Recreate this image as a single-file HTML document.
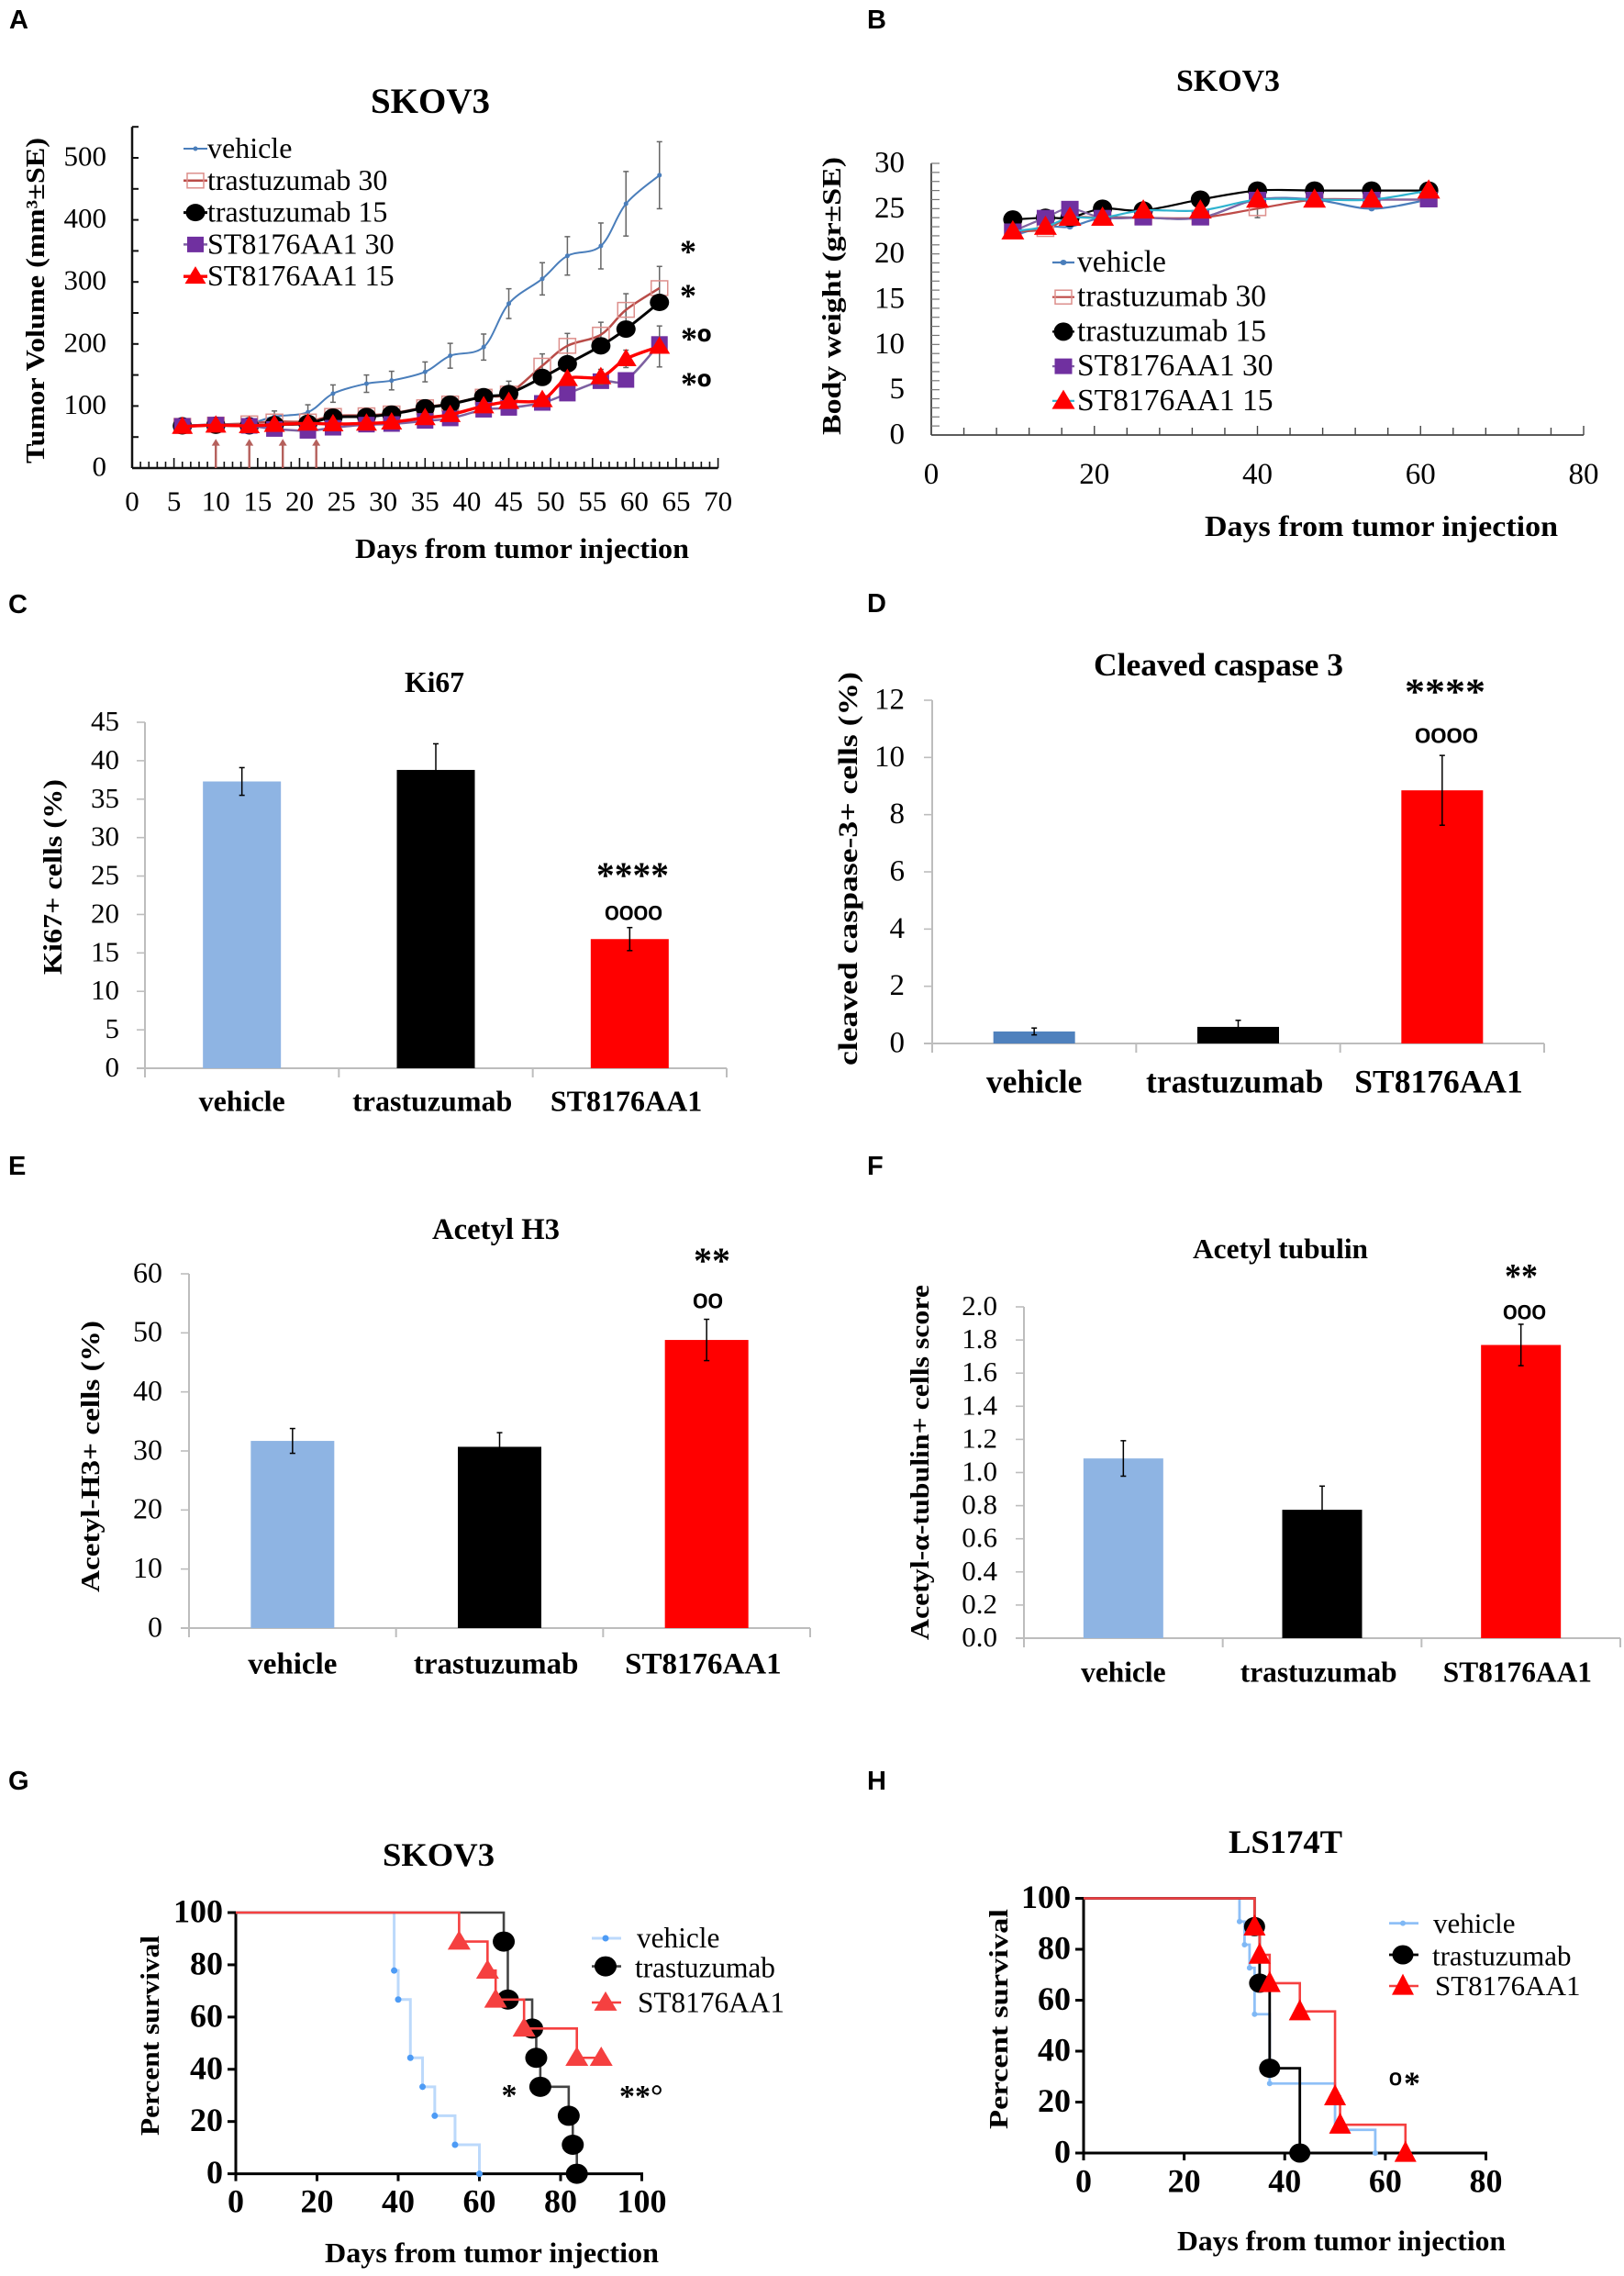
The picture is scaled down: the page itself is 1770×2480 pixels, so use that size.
<!DOCTYPE html>
<html lang="en">
<head>
<meta charset="utf-8">
<title>Tumor growth, biomarker and survival figure</title>
<style>
html,body{margin:0;padding:0;background:#fff;}
svg{display:block;}
text{font-family:"Liberation Serif",serif;fill:#000;}
.letter{font-family:"Liberation Sans",sans-serif;font-weight:700;font-size:29px;}
.title,.axis-title,.sig{font-weight:700;}
.ring{font-family:"Liberation Sans",sans-serif;stroke:#000;stroke-width:0.7px;}
</style>
</head>
<body>
<svg id="figure" xmlns="http://www.w3.org/2000/svg" width="1770" height="2480" viewBox="0 0 1770 2480">
<rect width="1770" height="2480" fill="#fff"/>

<g id="panel-a">
<text class="letter" x="10" y="31">A</text>
<text class="title" x="404" y="123" font-size="39" textLength="130" lengthAdjust="spacingAndGlyphs">SKOV3</text>
<text class="axis-title" x="387" y="608" font-size="31" textLength="364" lengthAdjust="spacingAndGlyphs">Days from tumor injection</text>
<text class="axis-title" x="48" y="505" font-size="29" textLength="355" lengthAdjust="spacingAndGlyphs" transform="rotate(-90 48 505)">Tumor Volume (mm³±SE)</text>
<text class="sig" x="750" y="286" font-size="36" text-anchor="middle">*</text>
<text class="sig" x="750" y="334" font-size="36" text-anchor="middle">*</text>
<text class="sig" x="742" y="381" font-size="36">*<tspan class="ring" font-size="25" dy="-9">o</tspan></text>
<text class="sig" x="742" y="430" font-size="36">*<tspan class="ring" font-size="25" dy="-9">o</tspan></text>
</g>

<g id="panel-b">
<text class="letter" x="945" y="31">B</text>
<text class="title" x="1282" y="99" font-size="34" textLength="113" lengthAdjust="spacingAndGlyphs">SKOV3</text>
<text class="axis-title" x="1313" y="584" font-size="32" textLength="385" lengthAdjust="spacingAndGlyphs">Days from tumor injection</text>
<text class="axis-title" x="916" y="474" font-size="29" textLength="303" lengthAdjust="spacingAndGlyphs" transform="rotate(-90 916 474)">Body weight (gr±SE)</text>
</g>

<g id="panel-c">
<text class="letter" x="9" y="668">C</text>
<text class="title" x="441" y="754" font-size="32" textLength="65" lengthAdjust="spacingAndGlyphs">Ki67</text>
<text class="axis-title" x="67" y="1062" font-size="28" textLength="213" lengthAdjust="spacingAndGlyphs" transform="rotate(-90 67 1062)">Ki67+ cells (%)</text>
<text class="sig" x="650" y="967" font-size="40" textLength="79" lengthAdjust="spacingAndGlyphs">****</text>
<text class="ring" x="659" y="1002" font-size="28" textLength="63" lengthAdjust="spacingAndGlyphs">oooo</text>
</g>

<g id="panel-d">
<text class="letter" x="945" y="667">D</text>
<text class="title" x="1192" y="736" font-size="35" textLength="272" lengthAdjust="spacingAndGlyphs">Cleaved caspase 3</text>
<text class="axis-title" x="934" y="1161" font-size="30" textLength="429" lengthAdjust="spacingAndGlyphs" transform="rotate(-90 934 1161)">cleaved caspase-3+ cells (%)</text>
<text class="sig" x="1531" y="767" font-size="40" textLength="88" lengthAdjust="spacingAndGlyphs">****</text>
<text class="ring" x="1542" y="809" font-size="29" textLength="69" lengthAdjust="spacingAndGlyphs">oooo</text>
</g>

<g id="panel-e">
<text class="letter" x="9" y="1280">E</text>
<text class="title" x="471" y="1350" font-size="33" textLength="139" lengthAdjust="spacingAndGlyphs">Acetyl H3</text>
<text class="axis-title" x="108" y="1735" font-size="28" textLength="296" lengthAdjust="spacingAndGlyphs" transform="rotate(-90 108 1735)">Acetyl-H3+ cells (%)</text>
<text class="sig" x="756" y="1387" font-size="40" textLength="40" lengthAdjust="spacingAndGlyphs">**</text>
<text class="ring" x="755" y="1425" font-size="29" textLength="33" lengthAdjust="spacingAndGlyphs">oo</text>
</g>

<g id="panel-f">
<text class="letter" x="945" y="1280">F</text>
<text class="title" x="1300" y="1371" font-size="31" textLength="191" lengthAdjust="spacingAndGlyphs">Acetyl tubulin</text>
<text class="axis-title" x="1012" y="1787" font-size="28" textLength="387" lengthAdjust="spacingAndGlyphs" transform="rotate(-90 1012 1787)">Acetyl-α-tubulin+ cells score</text>
<text class="sig" x="1640" y="1403" font-size="38" textLength="36" lengthAdjust="spacingAndGlyphs">**</text>
<text class="ring" x="1638" y="1437" font-size="28" textLength="47" lengthAdjust="spacingAndGlyphs">ooo</text>
</g>

<g id="panel-g">
<text class="letter" x="9" y="1950">G</text>
<text class="title" x="417" y="2033" font-size="36" textLength="122" lengthAdjust="spacingAndGlyphs">SKOV3</text>
<text class="axis-title" x="354" y="2465" font-size="31" textLength="364" lengthAdjust="spacingAndGlyphs">Days from tumor injection</text>
<text class="axis-title" x="173" y="2327" font-size="28" textLength="218" lengthAdjust="spacingAndGlyphs" transform="rotate(-90 173 2327)">Percent survival</text>
<text class="sig" x="555" y="2294" font-size="34" text-anchor="middle">*</text>
<text class="sig" x="675" y="2295" font-size="34">**°</text>
</g>

<g id="panel-h">
<text class="letter" x="945" y="1950">H</text>
<text class="title" x="1339" y="2019" font-size="36" textLength="124" lengthAdjust="spacingAndGlyphs">LS174T</text>
<text class="axis-title" x="1283" y="2452" font-size="31" textLength="358" lengthAdjust="spacingAndGlyphs">Days from tumor injection</text>
<text class="axis-title" x="1098" y="2320" font-size="28" textLength="240" lengthAdjust="spacingAndGlyphs" transform="rotate(-90 1098 2320)">Percent survival</text>
<text class="ring" x="1514" y="2272" font-size="25">o</text>
<text class="sig" x="1530" y="2282" font-size="36">*</text>
</g>
</svg>

<script>
/* ---------- Panel A data: tumor volume ---------- */
const aDays = [6,10,14,17,21,24,28,31,35,38,42,45,49,52,56,59,63];
const aVehicle = [68,70,72,83,90,120,136,141,155,181,195,265,305,342,358,426,472];
const aVehicleErr = [4,4,5,9,12,14,14,15,16,20,21,24,26,31,37,52,54];
const aTras30 = [68,70,72,75,75,84,85,88,98,104,115,120,165,197,215,255,290];
const aTras30Err = [4,4,4,5,5,6,6,6,7,8,8,20,19,20,20,26,35];
const aTras15 = [68,69,68,70,72,82,83,87,97,103,115,120,146,168,197,224,267];
const aST30 = [68,70,68,63,60,65,70,71,76,80,94,97,105,120,140,142,200];
const aST15 = [67,69,68,70,72,71,72,74,81,86,100,107,110,144,147,176,196];
const aST15Err = [3,3,3,4,4,4,4,4,5,5,6,6,8,10,12,14,33];
const aArrowDays = [10,14,18,22];
const aXTicks = ['0','5','10','15','20','25','30','35','40','45','50','55','60','65','70'];
const aYTicks = ['0','100','200','300','400','500'];

/* ---------- Panel B data: body weight ---------- */
const bDays = [10,14,17,21,26,33,40,47,54,61];
const bVehicle = [22,23,23,24,24,24,26,26,25,26];
const bTras30 = [22.5,22.7,24,24,24,24,25,26,26,26];
const bTras30Err = [0.5,0.4,0.5,0.5,0.4,0.5,1,0.5,0.5,0.5];
const bTras15 = [23.8,24,24,25,24.8,26,27,27,27,27];
const bST30 = [22.5,24,25,24,24,24,26,26,26,26];
const bST15 = [22.5,23,24,24,24.8,24.8,26,26,26,27];
const bXTicks = ['0','20','40','60','80'];
const bYTicks = ['0','5','10','15','20','25','30'];

/* ---------- Legends ---------- */
const doseSeriesNames = ['vehicle','trastuzumab 30','trastuzumab 15','ST8176AA1 30','ST8176AA1 15'];
const treatmentNames = ['vehicle','trastuzumab','ST8176AA1'];

/* ---------- Panels C-F data: bars ---------- */
const barCategories = ['vehicle','trastuzumab','ST8176AA1'];
const cValues = [37.3,38.8,16.8];
const cErrors = [1.8,3.4,1.5];
const cYTicks = ['0','5','10','15','20','25','30','35','40','45'];
const dValues = [0.42,0.58,8.85];
const dErrors = [0.12,0.23,1.22];
const dYTicks = ['0','2','4','6','8','10','12'];
const eValues = [31.7,30.7,48.8];
const eErrors = [2.1,2.4,3.5];
const eYTicks = ['0','10','20','30','40','50','60'];
const fValues = [1.085,0.775,1.77];
const fErrors = [0.107,0.143,0.125];
const fYTicks = ['0.0','0.2','0.4','0.6','0.8','1.0','1.2','1.4','1.6','1.8','2.0'];

/* ---------- Panels G-H data: survival ---------- */
const gVehicleDays = [39,40,43,46,49,54,60];
const gVehicleSurv = [77.8,66.7,44.4,33.3,22.2,11.1,0];
const gTrasDays = [66,67,73,74,75,82,83,84];
const gTrasSurv = [88.9,66.7,55.6,44.4,33.3,22.2,11.1,0];
const gSTDays = [55,62,64,71,84,90];
const gSTSurv = [88.9,77.8,66.7,55.6,44.4,44.4];
const gXTicks = ['0','20','40','60','80','100'];
const survivalYTicks = ['0','20','40','60','80','100'];
const hVehicleDays = [31,32,33,34,37,50,58];
const hVehicleSurv = [90.9,81.8,72.7,54.5,27.3,9.1,0];
const hTrasDays = [34,35,37,43];
const hTrasSurv = [88.9,66.7,33.3,0];
const hSTDays = [34,35,37,43,50,51,64];
const hSTSurv = [88.9,77.8,66.7,55.6,22.2,11.1,0];
const hXTicks = ['0','20','40','60','80'];

/* ---------- Helpers ---------- */
const NS = 'http://www.w3.org/2000/svg';
const linear = (d0, d1, r0, r1) => v => r0 + (v - d0) / (d1 - d0) * (r1 - r0);
const panel = id => document.getElementById(id);

function shape(parent, tag, name, props) {
  const el = document.createElementNS(NS, tag);
  for (const k in props) el.setAttribute(k, props[k]);
  
  
  parent.appendChild(el);
  return el;
}
function seg(parent, name, x1, y1, x2, y2, stroke, w) {
  return shape(parent, 'line', name, {x1, y1, x2, y2, stroke, 'stroke-width': w});
}
function label(parent, name, str, x, y, size, anchor, weight) {
  const el = shape(parent, 'text', name, {x, y, 'font-size': size, 'text-anchor': anchor, 'font-weight': weight || 400});
  el.textContent = str;
  return el;
}
function marker(parent, name, kind, x, y, st) {
  const w = st.w, h = st.h;
  if (kind === 'circle' || kind === 'dot')
    return shape(parent, 'ellipse', name, {cx: x, cy: y, rx: w / 2, ry: h / 2, fill: st.fill});
  if (kind === 'square')
    return shape(parent, 'rect', name, {x: x - w / 2, y: y - h / 2, width: w, height: h, fill: st.fill, stroke: st.stroke || 'none', 'stroke-width': st.sw || 0});
  return shape(parent, 'polygon', name, {points: `${x},${y - h * 0.58} ${x + w / 2},${y + h * 0.42} ${x - w / 2},${y + h * 0.42}`, fill: st.fill});
}
function smoothPath(pts) {
  let d = `M${pts[0][0]},${pts[0][1]}`;
  for (let i = 0; i < pts.length - 1; i++) {
    const p0 = pts[Math.max(i - 1, 0)], p1 = pts[i], p2 = pts[i + 1], p3 = pts[Math.min(i + 2, pts.length - 1)];
    d += ` C${p1[0] + (p2[0] - p0[0]) / 6},${p1[1] + (p2[1] - p0[1]) / 6} ${p2[0] - (p3[0] - p1[0]) / 6},${p2[1] - (p3[1] - p1[1]) / 6} ${p2[0]},${p2[1]}`;
  }
  return d;
}
function errorBar(parent, name, x, yHi, yLo, color, w, cap) {
  seg(parent, name, x, yHi, x, yLo, color, w);
  seg(parent, name + '-cap', x - cap, yHi, x + cap, yHi, color, w);
  seg(parent, name + '-cap', x - cap, yLo, x + cap, yLo, color, w);
}
function smoothSeries(parent, name, days, values, errs, X, Y, st) {
  const g = shape(parent, 'g', name, {});
  if (errs) days.forEach((d, i) => errorBar(g, name + '-error', X(d), Y(values[i] + errs[i]), Y(values[i] - errs[i]), '#666', 1.5, 3));
  shape(g, 'path', name + '-line', {d: smoothPath(days.map((d, i) => [X(d), Y(values[i])])), fill: 'none', stroke: st.line, 'stroke-width': st.lw});
  days.forEach((d, i) => marker(g, name + '-point', st.kind, X(d), Y(values[i]), st));
}
function legendRow(parent, name, str, textX, baseY, fontSize, x1, x2, mx, my, st) {
  seg(parent, name + '-swatch-line', x1, my, x2, my, st.line, st.lw);
  marker(parent, name + '-swatch-marker', st.kind, mx, my, st);
  label(parent, name + '-label', str, textX, baseY, fontSize, 'start');
}
function stepSeries(parent, name, days, surv, X, Y, st) {
  const g = shape(parent, 'g', name, {});
  let d = `M${X(0)},${Y(100)}`;
  days.forEach((t, i) => { d += ` H${X(t)} V${Y(surv[i])}`; });
  shape(g, 'path', name + '-line', {d, fill: 'none', stroke: st.line, 'stroke-width': st.lw});
  days.forEach((t, i) => marker(g, name + '-point', st.kind, X(t), Y(surv[i]), st));
}

/* ---------- Panel A ---------- */
(function () {
  const g = panel('panel-a');
  const X = linear(0, 70, 144, 782.6), Y = linear(0, 500, 510, 172);
  const dark = '#111';
  seg(g, 'y-axis-line', X(0), Y(550), X(0), Y(0), dark, 2.5);
  seg(g, 'x-axis-line', X(0), Y(0), X(70), Y(0), dark, 2.5);
  for (let d = 0; d <= 70; d++) seg(g, 'x-tick', X(d), Y(0), X(d), Y(0) - (d % 5 ? 7 : 11), dark, 1.6);
  for (let v = 50; v <= 550; v += 50) seg(g, 'y-tick', X(0), Y(v), X(0) + 7, Y(v), dark, 2);
  aXTicks.forEach(t => label(g, 'x-tick-label', t, X(+t), 556.5, 31, 'middle'));
  aYTicks.forEach(t => label(g, 'y-tick-label', t, 116, Y(+t) + 8.5, 31, 'end'));
  aArrowDays.forEach(d => {
    seg(g, 'dosing-arrow-shaft', X(d), Y(0), X(d), Y(38), '#b5605c', 2.4);
    shape(g, 'polygon', 'dosing-arrow-head', {points: `${X(d)},${Y(47)} ${X(d) + 4.5},${Y(36)} ${X(d) - 4.5},${Y(36)}`, fill: '#b5605c'});
  });
  const styles = [
    {kind: 'dot', w: 5, h: 5, fill: '#4a7ebb', line: '#4a7ebb', lw: 2},
    {kind: 'square', w: 18, h: 16, fill: 'none', stroke: '#dd8f8c', sw: 1.5, line: '#b94c48', lw: 2.5},
    {kind: 'circle', w: 21, h: 19, fill: '#000', line: '#000', lw: 3},
    {kind: 'square', w: 18, h: 17, fill: '#7030a0', line: '#7d60a0', lw: 2.5},
    {kind: 'triangle', w: 23, h: 19, fill: '#ff0000', line: '#ff0000', lw: 3.4}
  ];
  smoothSeries(g, 'series-vehicle', aDays, aVehicle, aVehicleErr, X, Y, styles[0]);
  smoothSeries(g, 'series-trastuzumab-30', aDays, aTras30, aTras30Err, X, Y, styles[1]);
  smoothSeries(g, 'series-trastuzumab-15', aDays, aTras15, null, X, Y, styles[2]);
  smoothSeries(g, 'series-st8176aa1-30', aDays, aST30, null, X, Y, styles[3]);
  smoothSeries(g, 'series-st8176aa1-15', aDays, aST15, aST15Err, X, Y, styles[4]);
  doseSeriesNames.forEach((n, i) => {
    const my = 162 + i * 34.8;
    legendRow(g, 'legend-entry', n, 226, my + 10, 32, 200, 226, 213, my, styles[i]);
  });
})();

/* ---------- Panel B ---------- */
(function () {
  const g = panel('panel-b');
  const X = linear(0, 80, 1015, 1726), Y = linear(0, 30, 474, 178);
  const dark = '#444';
  seg(g, 'y-axis-line', X(0), Y(30), X(0), Y(0), dark, 1.8);
  seg(g, 'x-axis-line', X(0), Y(0), X(80), Y(0), dark, 1.8);
  for (let d = 4; d <= 80; d += 4) seg(g, 'x-tick', X(d), Y(0), X(d), Y(0) - (d % 20 ? 8 : 10), dark, 1.4);
  for (let v = 1; v <= 30; v++) seg(g, 'y-tick', X(0), Y(v), X(0) + 9, Y(v), '#777', 1.2);
  bXTicks.forEach(t => label(g, 'x-tick-label', t, X(+t), 527, 33, 'middle'));
  bYTicks.forEach(t => label(g, 'y-tick-label', t, 986, Y(+t) + 9.5, 33, 'end'));
  const styles = [
    {kind: 'dot', w: 7, h: 6, fill: '#4a7ebb', line: '#4a7ebb', lw: 2.2},
    {kind: 'square', w: 18, h: 15, fill: 'none', stroke: '#dd8f8c', sw: 1.5, line: '#be4b48', lw: 2.2},
    {kind: 'circle', w: 21, h: 20, fill: '#000', line: '#000', lw: 2.2},
    {kind: 'square', w: 19, h: 17, fill: '#7030a0', line: '#8064a2', lw: 2.2},
    {kind: 'triangle', w: 25, h: 21, fill: '#ff0000', line: '#2fb3cf', lw: 2.2}
  ];
  smoothSeries(g, 'series-vehicle', bDays, bVehicle, null, X, Y, styles[0]);
  smoothSeries(g, 'series-trastuzumab-30', bDays, bTras30, bTras30Err, X, Y, styles[1]);
  smoothSeries(g, 'series-trastuzumab-15', bDays, bTras15, null, X, Y, styles[2]);
  smoothSeries(g, 'series-st8176aa1-30', bDays, bST30, null, X, Y, styles[3]);
  smoothSeries(g, 'series-st8176aa1-15', bDays, bST15, null, X, Y, styles[4]);
  doseSeriesNames.forEach((n, i) => {
    const my = 286 + i * 37.7;
    legendRow(g, 'legend-entry', n, 1174, my + 10, 33.6, 1147, 1171, 1159, my, styles[i]);
  });
})();

/* ---------- Panels C-F ---------- */
function barChart(c) {
  const g = panel(c.id);
  const Y = linear(0, c.yMax, c.y0, c.yTop);
  const band = (c.x1 - c.x0) / c.values.length;
  const axis = '#bdbdbd';
  seg(g, 'y-axis-line', c.x0, c.yTop, c.x0, c.y0, axis, 2);
  seg(g, 'x-axis-line', c.x0 - 9, c.y0, c.x1, c.y0, axis, 2);
  for (let i = 0; i <= c.values.length; i++) seg(g, 'x-tick', c.x0 + i * band, c.y0, c.x0 + i * band, c.y0 + 10, axis, 2);
  c.yTicks.forEach(t => {
    seg(g, 'y-tick', c.x0 - 9, Y(+t), c.x0, Y(+t), axis, 1.6);
    label(g, 'y-tick-label', t, c.tickRight, Y(+t) + c.tickSize * 0.29, c.tickSize, 'end');
  });
  c.values.forEach((v, i) => {
    const cx = c.x0 + (i + 0.5) * band;
    shape(g, 'rect', 'bar-' + barCategories[i].toLowerCase(), {x: cx - c.barW / 2, y: Y(v), width: c.barW, height: c.y0 - Y(v), fill: c.colors[i]});
    errorBar(g, 'error-bar-' + barCategories[i].toLowerCase(), cx, Y(v + c.errors[i]), Y(v - c.errors[i]), '#000', 1.5, 3);
    const nudge = i === 0 ? 0 : -3.8;
    label(g, 'category-label', barCategories[i], cx + nudge, c.catY, c.catSize, 'middle', 700);
  });
}
barChart({id: 'panel-c', values: cValues, errors: cErrors, yTicks: cYTicks, yMax: 45, x0: 158, x1: 792, y0: 1164, yTop: 787, barW: 85, colors: ['#8eb4e3', '#000', '#ff0000'], tickRight: 130, tickSize: 31, catY: 1210.5, catSize: 32});
barChart({id: 'panel-d', values: dValues, errors: dErrors, yTicks: dYTicks, yMax: 12, x0: 1016, x1: 1683, y0: 1137, yTop: 763, barW: 89, colors: ['#4f81bd', '#000', '#ff0000'], tickRight: 986, tickSize: 33, catY: 1190.5, catSize: 35.5});
barChart({id: 'panel-e', values: eValues, errors: eErrors, yTicks: eYTicks, yMax: 60, x0: 206, x1: 883, y0: 1774, yTop: 1388, barW: 91, colors: ['#8eb4e3', '#000', '#ff0000'], tickRight: 177, tickSize: 32, catY: 1823.5, catSize: 33});
barChart({id: 'panel-f', values: fValues, errors: fErrors, yTicks: fYTicks, yMax: 2, x0: 1116, x1: 1766, y0: 1785, yTop: 1424, barW: 87, colors: ['#8eb4e3', '#000', '#ff0000'], tickRight: 1087, tickSize: 31, catY: 1832.5, catSize: 31.4});

/* ---------- Panels G-H ---------- */
function survivalChart(c) {
  const g = panel(c.id);
  const X = linear(0, c.xMax, c.x0, c.x1), Y = linear(0, 100, c.y0, c.yTop);
  seg(g, 'y-axis-line', c.x0, c.yTop - 1.5, c.x0, c.y0 + 1.5, '#000', 3);
  seg(g, 'x-axis-line', c.x0, c.y0, c.x1 + 1.5, c.y0, '#000', 3);
  c.xTicks.forEach(t => {
    seg(g, 'x-tick', X(+t), c.y0, X(+t), c.y0 + 8, '#000', 3);
    label(g, 'x-tick-label', t, X(+t), c.xLabelY, 36, 'middle', 700);
  });
  survivalYTicks.forEach(t => {
    seg(g, 'y-tick', c.x0 - 9, Y(+t), c.x0, Y(+t), '#000', 3);
    label(g, 'y-tick-label', t, c.tickRight, Y(+t) + 10.5, 36, 'end', 700);
  });
  stepSeries(g, 'series-vehicle', c.vehicle[0], c.vehicle[1], X, Y, c.styles[0]);
  stepSeries(g, 'series-trastuzumab', c.tras[0], c.tras[1], X, Y, c.styles[1]);
  stepSeries(g, 'series-st8176aa1', c.st[0], c.st[1], X, Y, c.styles[2]);
  treatmentNames.forEach((n, i) => {
    legendRow(g, 'legend-entry', n, c.legendX[i], c.legendBase[i], c.legendSize, c.legLine[0], c.legLine[1], c.legMarker, c.legendMark[i], c.styles[i]);
  });
}
survivalChart({id: 'panel-g', xMax: 100, x0: 257, x1: 699.5, y0: 2368.6, yTop: 2084, xTicks: gXTicks, xLabelY: 2410.5, tickRight: 243,
  vehicle: [gVehicleDays, gVehicleSurv], tras: [gTrasDays, gTrasSurv], st: [gSTDays, gSTSurv],
  styles: [
    {kind: 'dot', w: 7, h: 7, fill: '#4d9bf5', line: '#bcd9fb', lw: 3},
    {kind: 'circle', w: 24, h: 22, fill: '#000', line: '#444', lw: 2.6},
    {kind: 'triangle', w: 25, h: 21, fill: '#f54040', line: '#f54040', lw: 2.6}
  ],
  legendSize: 31.3, legendX: [694, 692, 695], legendBase: [2122, 2154.5, 2192.6], legendMark: [2112, 2142.6, 2182], legLine: [645, 677], legMarker: 660});
survivalChart({id: 'panel-h', xMax: 80, x0: 1181, x1: 1619.5, y0: 2346, yTop: 2068.5, xTicks: hXTicks, xLabelY: 2388.5, tickRight: 1167,
  vehicle: [hVehicleDays, hVehicleSurv], tras: [hTrasDays, hTrasSurv], st: [hSTDays, hSTSurv],
  styles: [
    {kind: 'dot', w: 6, h: 6, fill: '#7fb8f5', line: '#8fc0f7', lw: 2.8},
    {kind: 'circle', w: 23, h: 21, fill: '#000', line: '#000', lw: 2.8},
    {kind: 'triangle', w: 24, h: 23, fill: '#ff0000', line: '#f54040', lw: 2.6}
  ],
  legendSize: 31, legendX: [1562, 1561, 1564], legendBase: [2106, 2141.5, 2174], legendMark: [2095.6, 2130, 2164], legLine: [1514, 1546], legMarker: 1529});
</script>
</body>
</html>
